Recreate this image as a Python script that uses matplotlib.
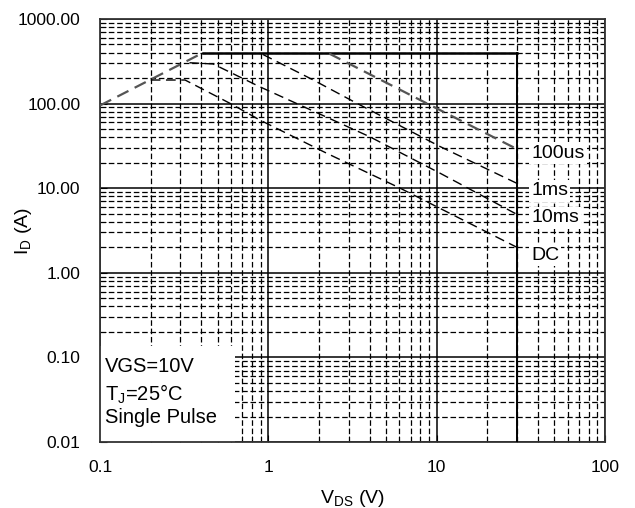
import numpy as np
import matplotlib
matplotlib.use("Agg")
import matplotlib.pyplot as plt
from matplotlib.patches import Rectangle

plt.rcParams["font.family"] = ["Liberation Sans", "DejaVu Sans"]
plt.rcParams["mathtext.fontset"] = "custom"
plt.rcParams["mathtext.rm"] = "Liberation Sans"
plt.rcParams["lines.scale_dashes"] = False

# Safe operating area curves (V_DS in V, I_D in A)
rds_v = [0.1, 0.41]
rds_i = [95, 400]
idm_v = [0.41, 30]
idm_i = [400, 400]
vmax_v = [30, 30]
vmax_i = [0.01, 400]
us100_v = [2.3, 8.7, 30]
us100_i = [390, 101, 29]
ms1_v = [0.93, 1.85, 3.35, 10.5, 30]
ms1_i = [380, 190, 101, 31, 11.4]
ms10_v = [0.34, 0.47, 0.89, 4.0, 10.5, 30]
ms10_i = [304, 294, 158, 40.6, 15, 4.9]
dc_v = [0.2, 0.32, 0.59, 0.89, 2.22, 6.07, 30]
dc_i = [190, 190, 101, 64, 25.9, 10, 2.0]

curve_labels = ["100us", "1ms", "10ms", "DC"]
label_y = [26, 9.3, 4.45, 1.62]

x_ticks = [0.1, 1, 10, 100]
x_ticklabels = ["0.1", "1", "10", "100"]
y_ticks = [0.01, 0.1, 1, 10, 100, 1000]
y_ticklabels = ["0.01", "0.10", "1.00", "10.00", "100.00", "1000.00"]

fig = plt.figure(figsize=(6.35, 5.08), dpi=100)
ax = fig.add_axes([0.1575, 0.1299, 0.7953, 0.8327])
ax.set_xscale("log")
ax.set_yscale("log")
ax.set_xlim(0.1, 100)
ax.set_ylim(0.01, 1000)

# hand-drawn grid so the text boxes can hide it but not the ticks
minor_x = [m * 10.0 ** e for e in range(-1, 2) for m in range(2, 10)]
minor_y = [m * 10.0 ** e for e in range(-2, 3) for m in range(2, 10)]
for v in minor_x:
    ax.axvline(v, color="black", lw=0.9, dashes=(4, 2), zorder=0.8)
for v in minor_y:
    ax.axhline(v, color="black", lw=0.9, dashes=(4, 2), zorder=0.8)
for v in x_ticks:
    ax.axvline(v, color="black", lw=1.1, zorder=0.9)
for v in y_ticks:
    ax.axhline(v, color="black", lw=1.1, zorder=0.9)

# limit lines
ax.plot(idm_v, idm_i, color="black", lw=1.8, zorder=3)
ax.plot(vmax_v, vmax_i, color="black", lw=1.4, zorder=3)
ax.plot(rds_v, rds_i, color="#555555", lw=1.6, dashes=(9, 5), zorder=3)
ax.plot(us100_v, us100_i, color="#555555", lw=1.6, dashes=(9, 5), zorder=3)
ax.plot(ms1_v, ms1_i, color="black", lw=1.0, dashes=(7, 4), zorder=3)
ax.plot(ms10_v, ms10_i, color="black", lw=1.0, dashes=(7, 4), zorder=3)
ax.plot(dc_v, dc_i, color="black", lw=1.0, dashes=(7, 4), zorder=3)

for txt, yv in zip(curve_labels, label_y):
    ax.text(36.4, yv, txt, fontsize=14, va="center", ha="left", zorder=4,
            bbox=dict(facecolor="white", edgecolor="none", pad=1.5))

# conditions box in the lower-left corner
ax.add_patch(Rectangle((0, 0), 0.267, 0.227, transform=ax.transAxes,
                       facecolor="white", edgecolor="none", zorder=2))
ax.text(0.1075, 0.078, "VGS=10V", fontsize=14.5, va="center", ha="left",
        zorder=4)
ax.text(0.1075, 0.037, r"T$_\mathregular{J}$=25°C", fontsize=14.5, va="center",
        ha="left", zorder=4)
ax.text(0.1075, 0.0193, "Single Pulse", fontsize=14.5, va="center", ha="left",
        zorder=4)

ax.set_xticks(x_ticks)
ax.set_xticklabels(x_ticklabels)
ax.set_yticks(y_ticks)
ax.set_yticklabels(y_ticklabels)
ax.xaxis.set_minor_locator(matplotlib.ticker.LogLocator(subs=np.arange(2, 10), numticks=20))
ax.yaxis.set_minor_locator(matplotlib.ticker.LogLocator(subs=np.arange(2, 10), numticks=20))
ax.xaxis.set_minor_formatter(matplotlib.ticker.NullFormatter())
ax.yaxis.set_minor_formatter(matplotlib.ticker.NullFormatter())
ax.tick_params(which="both", direction="in", labelsize=12.5, colors="black")
ax.tick_params(axis="x", which="major", pad=13, length=5)
ax.tick_params(axis="y", which="major", pad=14, length=5)
ax.tick_params(which="minor", length=4)
for s in ax.spines.values():
    s.set_linewidth(1.3)
    s.set_color("#333333")

ax.set_xlabel(r"V$_\mathregular{DS}$ (V)", fontsize=14)
ax.set_ylabel(r"I$_\mathregular{D}$ (A)", fontsize=14)
ax.xaxis.set_label_coords(0.5, -0.108)
ax.yaxis.set_label_coords(-0.131, 0.5)

fig.savefig("out.png", dpi=100)
